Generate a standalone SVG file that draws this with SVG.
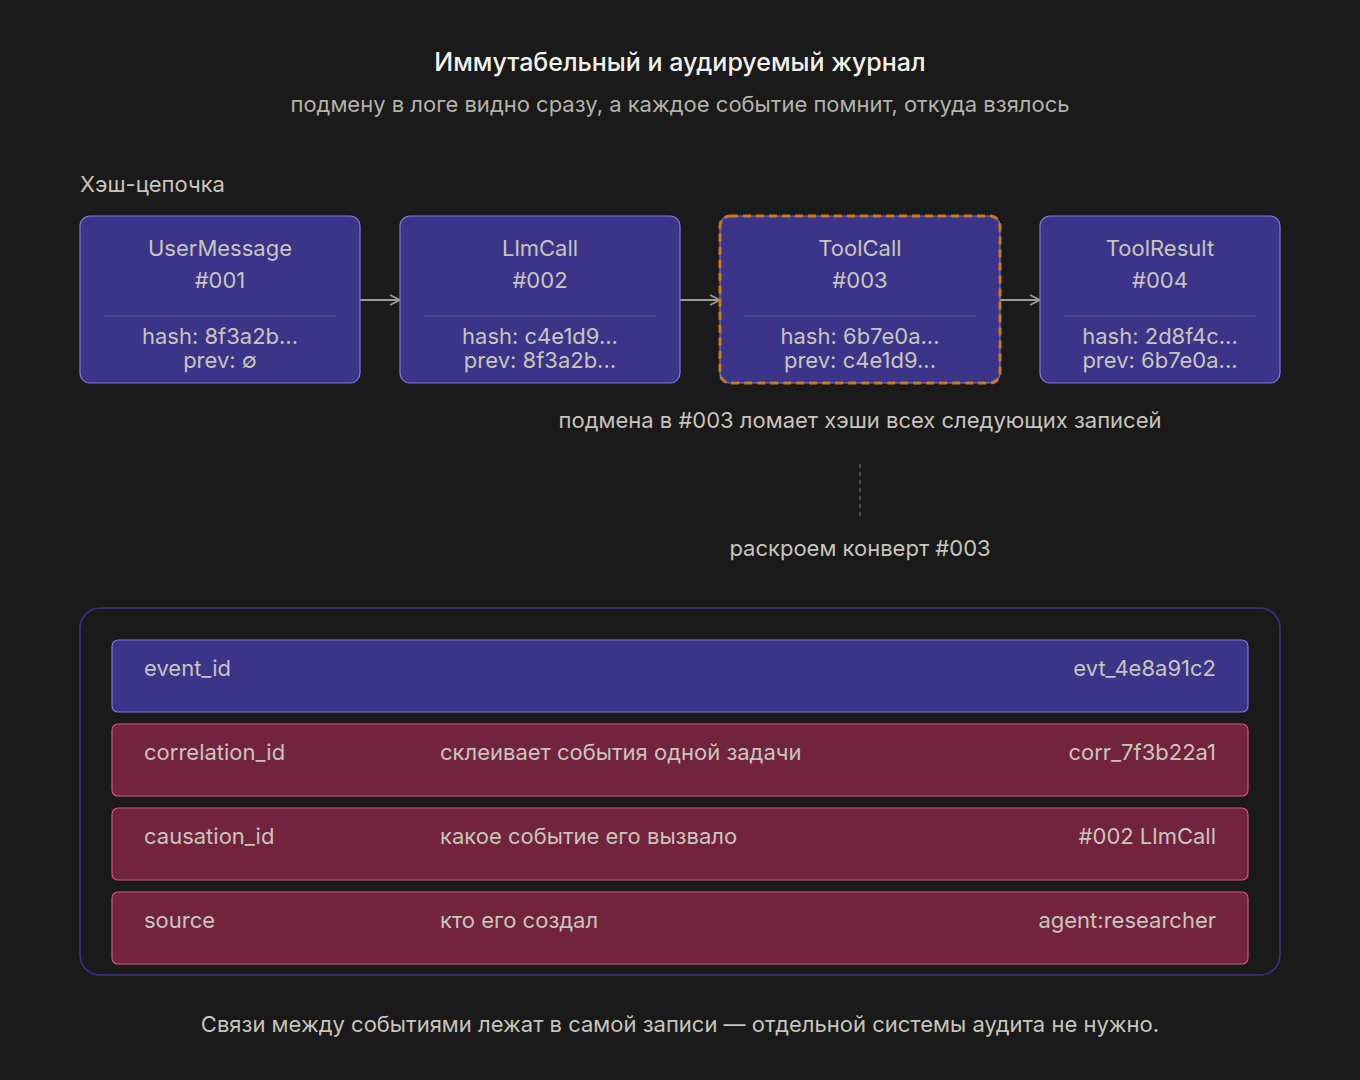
<svg xmlns="http://www.w3.org/2000/svg" width="1360" height="1080" viewBox="0 0 1360 1080">
<style>
text{font-family:Inter,"Noto Sans",sans-serif;fill:#c9c4bc}
.n{fill:#3c3489;stroke:#7f77dd;stroke-width:1.2}
.r{fill:#72243e;stroke:#d4537e;stroke-width:1.2}
.t{font-size:22px;text-anchor:middle}
.f{font-size:22px}
.e{font-size:22px;text-anchor:end}
.c{stroke:#5d5a87;stroke-width:1}
</style>
<defs><marker id="a" markerWidth="12" markerHeight="12" refX="11" refY="6" orient="auto" markerUnits="userSpaceOnUse"><path d="M1 1L11 6L1 11" fill="none" stroke="#9c9a92" stroke-width="1.8"/></marker></defs>
<rect width="1360" height="1080" fill="#1a1a1a"/>
<text x="680" y="71" text-anchor="middle" style="font-size:25px;font-weight:500;fill:#f2f0ea">Иммутабельный и аудируемый журнал</text>
<text x="680" y="112" class="t" style="fill:#b4b2a9">подмену в логе видно сразу, а каждое событие помнит, откуда взялось</text>
<text x="80" y="192" class="f">Хэш-цепочка</text>
<g id="connectors" stroke="#9c9a92" stroke-width="2" fill="none">
<line x1="360" y1="300" x2="400" y2="300" marker-end="url(#a)"/>
<line x1="680" y1="300" x2="720" y2="300" marker-end="url(#a)"/>
<line x1="1000" y1="300" x2="1040" y2="300" marker-end="url(#a)"/>
<line x1="860" y1="464" x2="860" y2="520" stroke="#6b6a66" stroke-width="1.2" stroke-dasharray="4 4"/>
</g>
<g id="n1"><rect class="n" x="80" y="216" width="280" height="167" rx="10"/><line class="c" x1="104" y1="316" x2="336" y2="316"/><text class="t" x="220" y="256">UserMessage</text><text class="t" x="220" y="288">#001</text><text class="t" x="220" y="344">hash: 8f3a2b...</text><text class="t" x="220" y="368">prev: ∅</text></g>
<g id="n2"><rect class="n" x="400" y="216" width="280" height="167" rx="10"/><line class="c" x1="424" y1="316" x2="656" y2="316"/><text class="t" x="540" y="256">LlmCall</text><text class="t" x="540" y="288">#002</text><text class="t" x="540" y="344">hash: c4e1d9...</text><text class="t" x="540" y="368">prev: 8f3a2b...</text></g>
<g id="n3"><rect class="n" x="720" y="216" width="280" height="167" rx="10"/><rect x="720" y="216" width="280" height="167" rx="10" fill="none" stroke="#c97a1a" stroke-width="3" stroke-dasharray="8 5"/><line class="c" x1="744" y1="316" x2="976" y2="316"/><text class="t" x="860" y="256">ToolCall</text><text class="t" x="860" y="288">#003</text><text class="t" x="860" y="344">hash: 6b7e0a...</text><text class="t" x="860" y="368">prev: c4e1d9...</text></g>
<g id="n4"><rect class="n" x="1040" y="216" width="240" height="167" rx="10"/><line class="c" x1="1064" y1="316" x2="1256" y2="316"/><text class="t" x="1160" y="256">ToolResult</text><text class="t" x="1160" y="288">#004</text><text class="t" x="1160" y="344">hash: 2d8f4c...</text><text class="t" x="1160" y="368">prev: 6b7e0a...</text></g>
<text class="t" x="860" y="428">подмена в #003 ломает хэши всех следующих записей</text>
<text class="t" x="860" y="556">раскроем конверт #003</text>
<g id="envelope"><rect x="80" y="608" width="1200" height="367" rx="20" fill="none" stroke="#3c3489" stroke-width="1.5"/>
<rect class="n" x="112" y="640" width="1136" height="72" rx="6"/><text class="f" x="144" y="676">event_id</text><text class="e" x="1216" y="676">evt_4e8a91c2</text>
<rect class="r" x="112" y="724" width="1136" height="72" rx="6"/><text class="f" x="144" y="760">correlation_id</text><text class="f" x="440" y="760">склеивает события одной задачи</text><text class="e" x="1216" y="760">corr_7f3b22a1</text>
<rect class="r" x="112" y="808" width="1136" height="72" rx="6"/><text class="f" x="144" y="844">causation_id</text><text class="f" x="440" y="844">какое событие его вызвало</text><text class="e" x="1216" y="844">#002 LlmCall</text>
<rect class="r" x="112" y="892" width="1136" height="72" rx="6"/><text class="f" x="144" y="928">source</text><text class="f" x="440" y="928">кто его создал</text><text class="e" x="1216" y="928">agent:researcher</text>
</g>
<text class="t" x="680" y="1032">Связи между событиями лежат в самой записи — отдельной системы аудита не нужно.</text>
</svg>
